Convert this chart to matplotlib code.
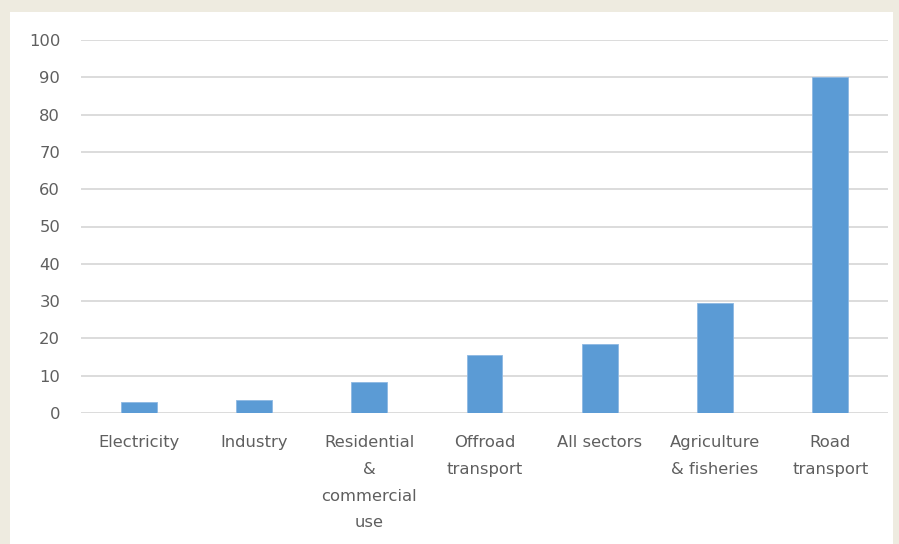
import matplotlib
matplotlib.use("Agg")
import matplotlib.pyplot as plt
from matplotlib.patches import Rectangle

# データ
categories = ["Electricity", "Industry", "Residential\n&\ncommercial\nuse",
              "Offroad\ntransport", "All sectors", "Agriculture\n& fisheries",
              "Road\ntransport"]
values = [3.0, 3.4, 8.4, 15.5, 18.4, 29.5, 90.0]
y_ticks = [0, 10, 20, 30, 40, 50, 60, 70, 80, 90, 100]

W, H = 899, 544
fig = plt.figure(figsize=(W / 100, H / 100), dpi=100, facecolor="#EEEBE0")

# 白い背景パネル（軸より下に描く）
fig.patches.append(Rectangle((10 / W, 0), (893 - 10) / W, (H - 12) / H,
                             transform=fig.transFigure, facecolor="white",
                             edgecolor="none", zorder=-10))

ax = fig.add_axes([81 / W, (H - 413) / H, (888 - 81) / W, (413 - 40) / H])
ax.set_facecolor("none")

x = list(range(len(categories)))
ax.bar(x, values, width=0.31, color="#5B9BD5", edgecolor="#8DB8E3",
       linewidth=0.6, zorder=3)

ax.set_xlim(-0.5, len(categories) - 0.5)
ax.set_ylim(0, 100)
ax.set_yticks(y_ticks)
ax.set_xticks(x)
ax.set_xticklabels(categories, linespacing=1.97)

for s in ax.spines.values():
    s.set_visible(False)
ax.grid(axis="y", color="#D9D9D9", linewidth=1.3, zorder=0)
ax.set_axisbelow(True)
ax.tick_params(axis="both", length=0, colors="#5F5F5F", labelsize=11.8)
ax.tick_params(axis="x", pad=16)
ax.tick_params(axis="y", pad=15)
for lab in ax.get_xticklabels() + ax.get_yticklabels():
    lab.set_fontfamily("DejaVu Sans")

fig.savefig("out.png", dpi=100, facecolor=fig.get_facecolor())
